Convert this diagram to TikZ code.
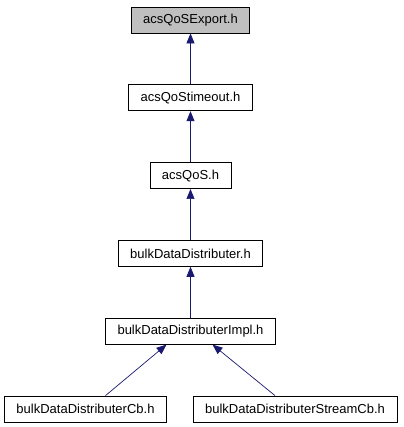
\documentclass[tikz,border=0pt]{standalone}
\usepackage{fontspec}
\setmainfont{Liberation Sans}
\usepackage{xcolor}
\usepackage{tikz}
\usetikzlibrary{positioning, arrows.meta, calc}
\definecolor{edgeblue}{RGB}{25, 25, 112}
\tikzset{
  hdr/.style={
    draw=black, line width=0.8pt,
    fill=white, minimum height=26pt,
    inner xsep=12pt, inner ysep=2pt,
    font=\fontsize{13}{15}\selectfont,
  },
  hdr root/.style={hdr, fill=black!25},
  inc/.style={draw=edgeblue, line width=0.7pt},
}

\begin{document}
\begin{tikzpicture}[node distance=51pt, >={Triangle[length=10pt, width=8pt]}]
\useasboundingbox (0,0) rectangle (403pt,-427pt);

\node[hdr root] (export) at (190.5pt,-20pt) {acsQoSExport.h};
\node[hdr, below=of export] (timeout) {acsQoStimeout.h};
\node[hdr, below=of timeout] (qos) {acsQoS.h};
\node[hdr, below=of qos] (distr) {bulkDataDistributer.h};
\node[hdr, below=of distr] (impl) {bulkDataDistributerImpl.h};
\node[hdr, below=of impl, xshift=-105pt] (cb) {bulkDataDistributerCb.h};
\node[hdr, below=of impl, xshift=104.5pt] (streamcb) {bulkDataDistributerStreamCb.h};

\draw[inc, ->] (timeout) -- (export);
\draw[inc, ->] (qos) -- (timeout);
\draw[inc, ->] (distr) -- (qos);
\draw[inc, ->] (impl) -- (distr);
\draw[inc, ->] ([xshift=20pt]cb.north) -- ([xshift=-24pt]impl.south);
\draw[inc, ->] ([xshift=-20pt]streamcb.north) -- ([xshift=22pt]impl.south);

\end{tikzpicture}
\end{document}
